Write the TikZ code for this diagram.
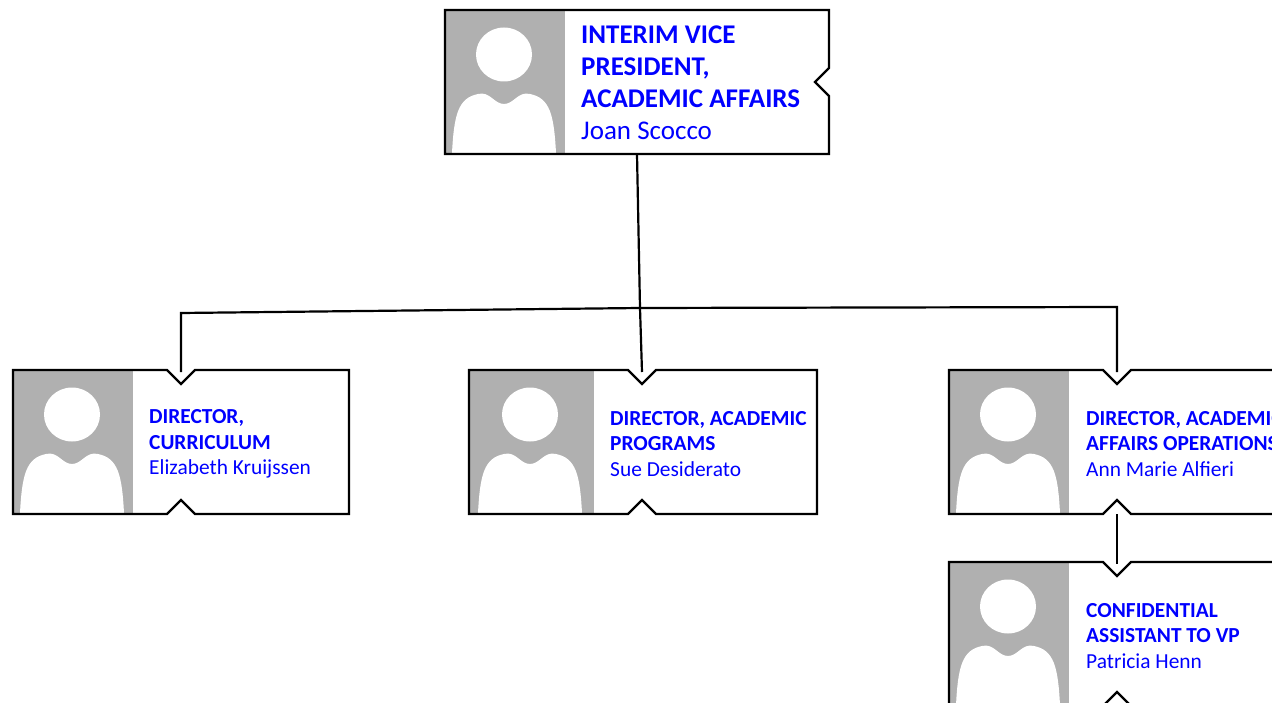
\documentclass[tikz,border=0pt]{standalone}
\usepackage{fontspec}
\setmainfont{Carlito}
\definecolor{txtblue}{RGB}{0,0,255}
\definecolor{photogray}{RGB}{176,176,176}
\newcommand\Silhouette[2]{%
  \fill[white] ({#1+58},{#2+44.5}) ellipse [x radius=28pt, y radius=27pt];
  \fill[white] ({#1+6},{#2+143}) .. controls ({#1+8},{#2+105}) and ({#1+12},{#2+88}) .. ({#1+32},{#2+84})
    .. controls ({#1+44},{#2+81}) and ({#1+48},{#2+94}) .. ({#1+58},{#2+94})
    .. controls ({#1+68},{#2+94}) and ({#1+72},{#2+81}) .. ({#1+84},{#2+84})
    .. controls ({#1+104},{#2+88}) and ({#1+108},{#2+105}) .. ({#1+110},{#2+143}) -- cycle;
}
\begin{document}
\begin{tikzpicture}[x=1pt,y=-1pt,
  outline/.style={draw=black, line width=2.2pt, line join=miter},
  conn/.style={draw=black, line width=2.2pt},
  photo/.style={fill=photogray},
  boxarea/.style={rectangle, inner sep=0pt, outer sep=0pt},
  bigtext/.style={text=txtblue, align=left, anchor=west, inner sep=0pt, font=\fontsize{27}{32}\selectfont\bfseries},
  smalltext/.style={text=txtblue, align=left, anchor=west, inner sep=0pt, font=\fontsize{21.4}{25.6}\selectfont\bfseries}]
\useasboundingbox (0,0) rectangle (1272,703);
\clip (0,0) rectangle (1272,703);

% ---------- top box ----------
\node[boxarea, minimum width=384pt, minimum height=144pt] (vp) at (637,82) {};
\fill[photo] (445,10) rectangle (565,154);
\Silhouette{446}{10}
\draw[outline] (445,10) -- (829,10) -- (829,68) -- (815,82) -- (829,96) -- (829,154) -- (445,154) -- cycle;
\node[bigtext] (vpt) at (581,83) {INTERIM VICE\\PRESIDENT,\\ACADEMIC AFFAIRS\\\mdseries Joan Scocco};

% ---------- box 1 ----------
\node[boxarea, minimum width=336pt, minimum height=144pt] (b1) at (181,442) {};
\fill[photo] (13,370) rectangle (133,514);
\Silhouette{14}{370}
\draw[outline] (13,370) -- (167,370) -- (181,384) -- (195,370) -- (349,370) -- (349,514)
  -- (195,514) -- (181,500) -- (167,514) -- (13,514) -- cycle;
\node[smalltext] (b1t) at (149,444) {DIRECTOR,\\CURRICULUM\\\mdseries Elizabeth Kruijssen};

% ---------- box 2 ----------
\node[boxarea, minimum width=348pt, minimum height=144pt] (b2) at (643,442) {};
\fill[photo] (469,370) rectangle (594,514);
\Silhouette{472}{370}
\draw[outline] (469,370) -- (628,370) -- (642,384) -- (656,370) -- (817,370) -- (817,514)
  -- (656,514) -- (642,500) -- (628,514) -- (469,514) -- cycle;
\node[smalltext] (b2t) at (610,444) {DIRECTOR, ACADEMIC\\PROGRAMS\\\mdseries Sue Desiderato};

% ---------- box 3 ----------
\node[boxarea, minimum width=341pt, minimum height=144pt] (b3) at (1119.5,442) {};
\fill[photo] (949,370) rectangle (1069,514);
\Silhouette{950}{370}
\draw[outline] (949,370) -- (1103,370) -- (1117,384) -- (1131,370) -- (1290,370) -- (1290,514)
  -- (1131,514) -- (1117,500) -- (1103,514) -- (949,514) -- cycle;
\node[smalltext] (b3t) at (1086,444) {DIRECTOR, ACADEMIC\\AFFAIRS OPERATIONS\\\mdseries Ann Marie Alfieri};

% ---------- box 4 ----------
\node[boxarea, minimum width=341pt, minimum height=144pt] (b4) at (1119.5,634) {};
\fill[photo] (949,562) rectangle (1069,706);
\Silhouette{950}{562}
\draw[outline] (949,562) -- (1103,562) -- (1117,576) -- (1131,562) -- (1290,562) -- (1290,706)
  -- (1131,706) -- (1117,692) -- (1103,706) -- (949,706) -- cycle;
\node[smalltext] (b4t) at (1086,636) {CONFIDENTIAL\\ASSISTANT TO VP\\\mdseries Patricia Henn};

% ---------- connectors ----------
\coordinate (j) at (640,308);
\coordinate (jl) at (181,313);
\coordinate (jr) at (1117,307);
\coordinate (b1in) at (181,372);
\coordinate (b2in) at (642,372);
\coordinate (b3in) at (1117,372);
\coordinate (b3out) at (1117,514);
\coordinate (b4in) at (1117,564);
\draw[conn] (vp.south) -- (j);
\draw[conn] (j) -- (b2in);
\draw[conn, line join=miter] (b1in) -- (jl) -- (j) -- (jr) -- (b3in);
\draw[conn] (b3out) -- (b4in);
\end{tikzpicture}
\end{document}
